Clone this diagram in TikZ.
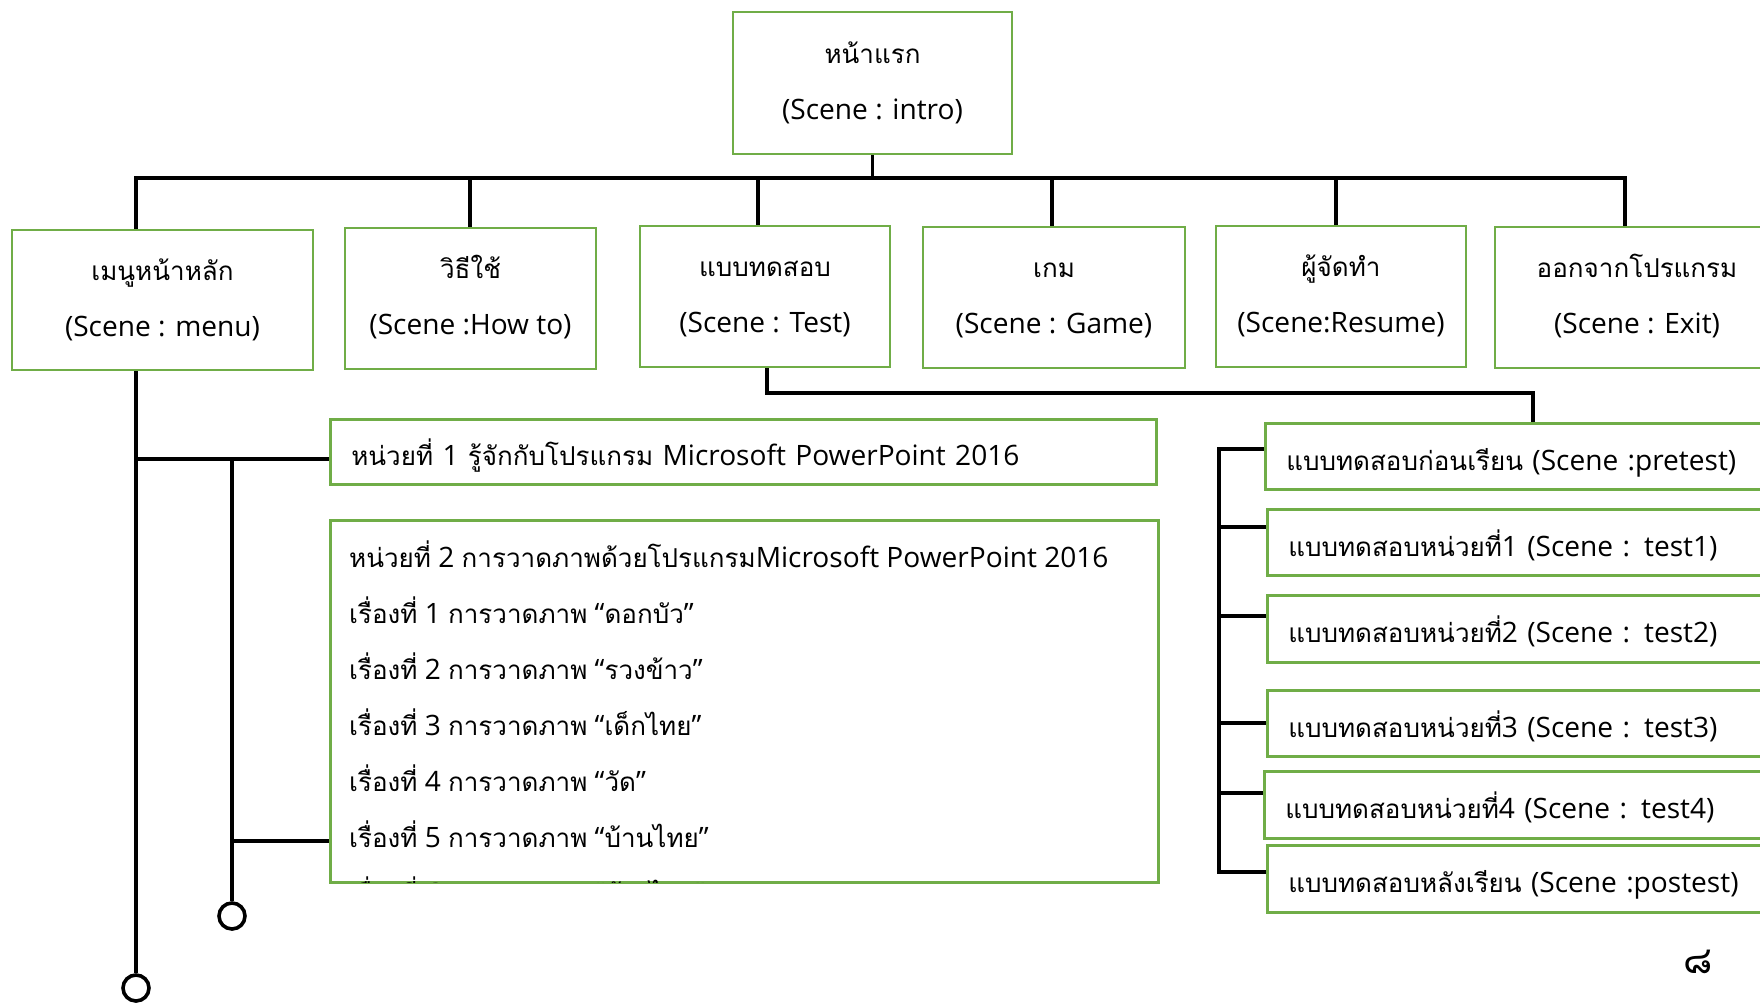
\documentclass[tikz,border=0pt]{standalone}
\usepackage{fontspec}
\setmainfont{Open Sans}[Scale=1.08]
\newfontfamily\thaifont[Script=Thai]{Loma}
\newcommand\T[1]{{\thaifont #1}}
\newcommand\stA{\rule[-20pt]{0pt}{56pt}}
\newcommand\stB{\rule[-14pt]{0pt}{56pt}}
\definecolor{gr}{HTML}{70AD47}
\begin{document}
\begin{tikzpicture}[x=1pt,y=-1pt,
  box/.style={draw=gr,line width=2.6pt,inner sep=0pt},
  cbox/.style={box,align=center,font=\fontsize{26}{56}\selectfont},
  lbox/.style={box,anchor=north west,align=left,inner xsep=21pt,inner ysep=0pt,
    text width=494pt,minimum width=536pt,font=\fontsize{26}{56}\selectfont},
  conn/.style={line width=3.8pt},
  endc/.style={circle,draw,line width=3.6pt,minimum size=26pt,inner sep=0pt},
]
\useasboundingbox (0,0) rectangle (1760,1002);
\clip (0,0) rectangle (1760,1002);

% top box
\node[cbox,minimum width=279pt,minimum height=142pt] (intro) at (872.5,83)
  {\stA\T{หน้าแรก}\\\stA(Scene : intro)};

% second row
\node[cbox,minimum width=301pt,minimum height=140pt] (menu) at (162.5,300)
  {\stA\T{เมนูหน้าหลัก}\\\stA(Scene : menu)};
\node[cbox,minimum width=251pt,minimum height=141pt] (howto) at (470.5,298.5)
  {\stA\T{วิธีใช้}\\\stA(Scene :How to)};
\node[cbox,minimum width=250pt,minimum height=141pt] (test) at (765,296.5)
  {\stA\T{แบบทดสอบ}\\\stA(Scene : Test)};
\node[cbox,minimum width=262pt,minimum height=141pt] (game) at (1054,297.5)
  {\stA\T{เกม}\\\stA(Scene : Game)};
\node[cbox,minimum width=250pt,minimum height=141pt] (resume) at (1341,296.5)
  {\stA\T{ผู้จัดทำ}\\\stA(Scene:Resume)};
\node[cbox,minimum width=284pt,minimum height=141pt] (exit) at (1637,297.5)
  {\stA\T{ออกจากโปรแกรม}\\\stA(Scene : Exit)};

% bus
\coordinate (d1) at (136,178);
\coordinate (d2) at (470,178);
\coordinate (d3) at (758,178);
\coordinate (d4) at (1052,178);
\coordinate (d5) at (1336,178);
\coordinate (d6) at (1625,178);
\draw[conn] (intro.south) -- (intro.south |- d1);
\draw[conn] ([xshift=-1.9pt]d1) -- ([xshift=1.9pt]d6);
\draw[conn] (d1) -- (d1 |- menu.north);
\draw[conn] (d2) -- (d2 |- howto.north);
\draw[conn] (d3) -- (d3 |- test.north);
\draw[conn] (d4) -- (d4 |- game.north);
\draw[conn] (d5) -- (d5 |- resume.north);
\draw[conn] (d6) -- (d6 |- exit.north);

% right column
\node[lbox,minimum height=66pt] (pre) at (1264,422) {\stB\T{แบบทดสอบก่อนเรียน} (Scene :pretest)};
\node[lbox,minimum height=66pt] (ta) at (1266,508) {\stB\T{แบบทดสอบหน่วยที่}1 (Scene : test1)};
\node[lbox,minimum height=67pt] (tb) at (1266,594) {\stB\T{แบบทดสอบหน่วยที่}2 (Scene : test2)};
\node[lbox,minimum height=66pt] (tc) at (1266,689) {\stB\T{แบบทดสอบหน่วยที่}3 (Scene : test3)};
\node[lbox,minimum height=67pt] (td) at (1263,770) {\stB\T{แบบทดสอบหน่วยที่}4 (Scene : test4)};
\node[lbox,minimum height=67pt] (post) at (1266,844) {\stB\T{แบบทดสอบหลังเรียน} (Scene :postest)};

\coordinate (t1) at (767,393);
\draw[conn] (test.south -| t1) -- (t1) -- (t1 -| pre.north) -- (pre.north);

\coordinate (k1) at (1219,449);
\coordinate (k2) at (1219,527);
\coordinate (k3) at (1219,616);
\coordinate (k4) at (1219,723);
\coordinate (k5) at (1219,793);
\coordinate (k6) at (1219,872);
\draw[conn] ([yshift=1.9pt]k1) -- ([yshift=-1.9pt]k6);
\draw[conn] (k1) -- (k1 -| pre.west);
\draw[conn] (k2) -- (k2 -| ta.west);
\draw[conn] (k3) -- (k3 -| tb.west);
\draw[conn] (k4) -- (k4 -| tc.west);
\draw[conn] (k5) -- (k5 -| td.west);
\draw[conn] (k6) -- (k6 -| post.west);

% units
\node[lbox,text width=784pt,minimum width=826pt,minimum height=65pt] (u1) at (329,418)
  {\stB\T{หน่วยที่} 1 \T{รู้จักกับโปรแกรม} Microsoft PowerPoint 2016};
\node[box,anchor=north west,minimum width=828pt,minimum height=362pt] (u2) at (329,519) {};
\begin{scope}
  \clip ([yshift=-1.3pt]u2.north west) rectangle ([yshift=1.3pt]u2.south east);
  \node[anchor=north west,align=left,inner sep=0pt,font=\fontsize{26}{56}\selectfont] (u2t) at (349,531)
   {\stA\T{หน่วยที่} 2 \T{การวาดภาพด้วยโปรแกรม}Microsoft PowerPoint 2016\\
    \stA\T{เรื่องที่} 1 \T{การวาดภาพ} “\T{ดอกบัว}”\\
    \stA\T{เรื่องที่} 2 \T{การวาดภาพ} “\T{รวงข้าว}”\\
    \stA\T{เรื่องที่} 3 \T{การวาดภาพ} “\T{เด็กไทย}”\\
    \stA\T{เรื่องที่} 4 \T{การวาดภาพ} “\T{วัด}”\\
    \stA\T{เรื่องที่} 5 \T{การวาดภาพ} “\T{บ้านไทย}”\\
    \stA\T{เรื่องที่} 6 \T{การวาดภาพ} “\T{ช้างไทย}”};
\end{scope}

% left connectors
\node[endc] (c1) at (136,988) {};
\node[endc] (c2) at (232,916) {};
\coordinate (j1) at (136,459);
\coordinate (j2) at (232,459);
\coordinate (j3) at (232,841);
\draw[conn] (d1 |- menu.south) -- (c1.north);
\draw[conn] (j1) -- (j1 -| u1.west);
\draw[conn] (j2) -- (c2.north);
\draw[conn] (j3) -- (j3 -| u2.west);

% page number
\node[font=\fontsize{38}{44}\selectfont,inner sep=0pt] (pg) at (1698,962) {\T{๘}};
\end{tikzpicture}
\end{document}
